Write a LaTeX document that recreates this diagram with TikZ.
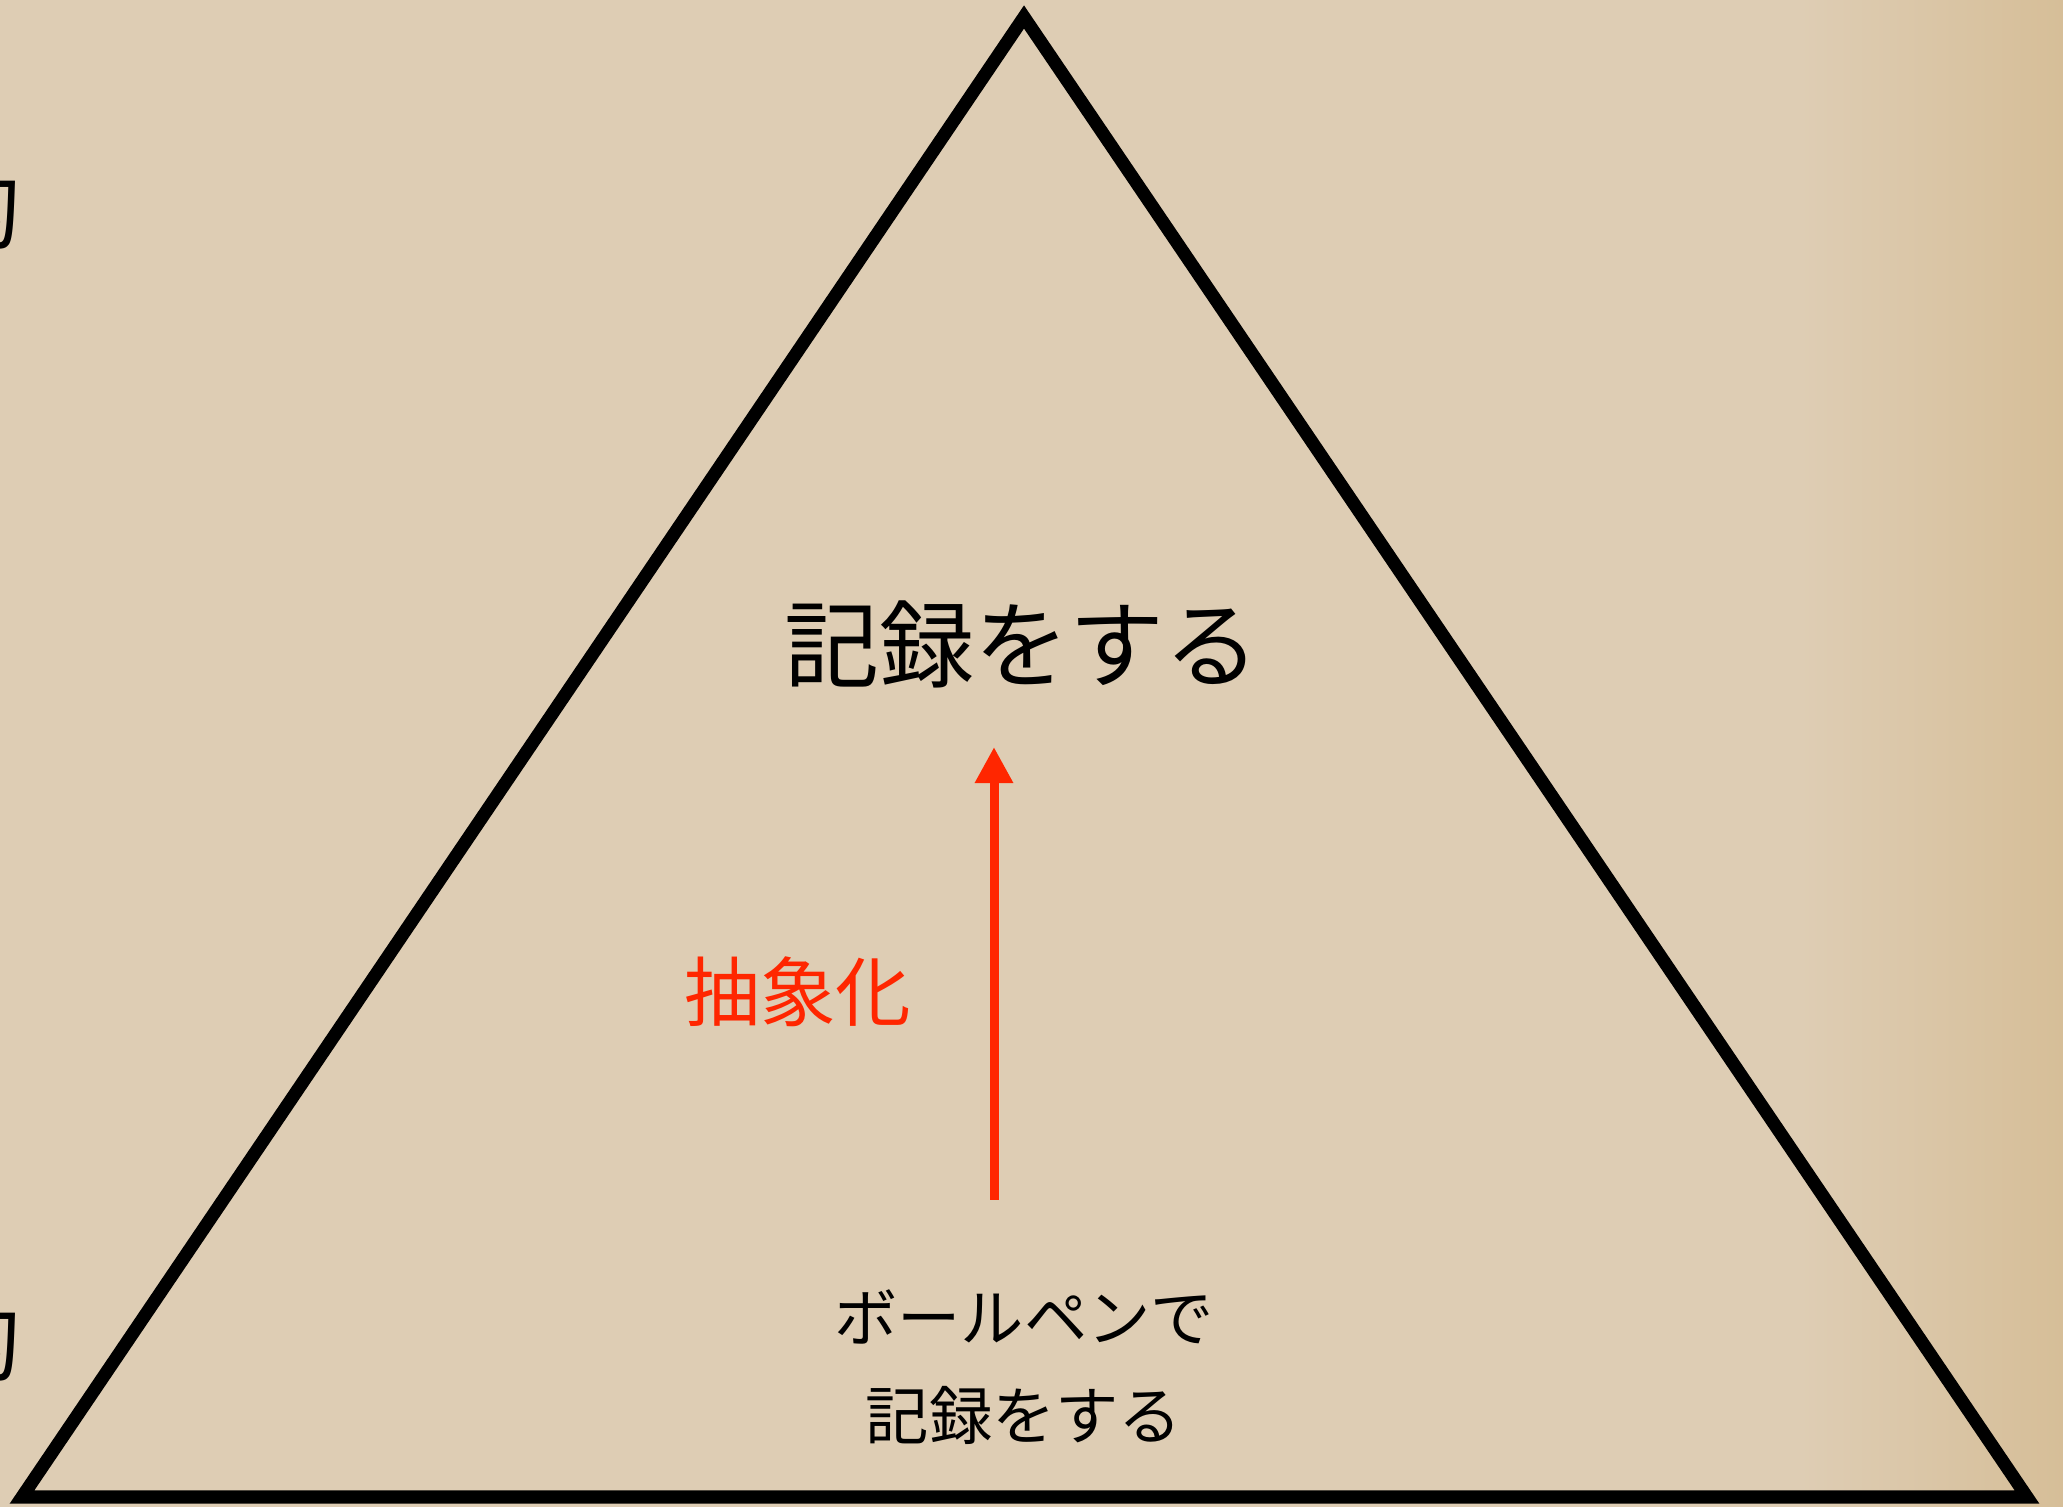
\documentclass[tikz,border=0pt]{standalone}
\usepackage{fontspec}
\newfontfamily\jp{Noto Sans CJK JP}
\usetikzlibrary{positioning,arrows.meta}
\definecolor{paper}{RGB}{222,205,180}
\definecolor{paperdark}{RGB}{214,190,152}
\definecolor{abstractred}{RGB}{255,38,0}

\begin{document}
\begin{tikzpicture}[
  x=0.01cm, y=-0.01cm,
  heading/.style={font=\jp\fontsize{27}{27}\selectfont, inner sep=0pt},
  note/.style={font=\jp\fontsize{18}{28}\selectfont, inner sep=0pt, align=center},
  redtag/.style={font=\jp\fontsize{21.5}{21.5}\selectfont\color{abstractred}, inner sep=0pt},
  edgetag/.style={font=\jp\fontsize{26}{26}\selectfont, inner sep=0pt, anchor=east},
  pyramid/.style={draw=black, line width=0.13cm, miter limit=20},
  up-arrow/.style={draw=abstractred, line width=0.09cm, -{Triangle[length=0.36cm, width=0.36cm]}}
]
  \useasboundingbox (0,0) rectangle (2063,1507);
  \fill[paper] (0,0) rectangle (2063,1507);
  \shade[left color=paper, right color=paperdark, shading angle=90] (1800,0) rectangle (2063,1507);

  % clipped words at the left edge
  \node (top-word) at (23, 208) [edgetag] {的};
  \node (bottom-word) at (23, 1340) [edgetag] {的};

  \coordinate (apex) at (1024, 17);
  \coordinate (base-left) at (22, 1497);
  \coordinate (base-right) at (2027, 1497);
  \draw[pyramid] (apex) -- (base-left) -- (base-right) -- cycle;

  \node (record) at (1022, 644) [heading] {記録をする};
  \node (pen-record) at (1024, 1367) [note] {ボールペンで\\記録をする};
  \node (abstraction) at (798, 992) [redtag] {抽象化};

  \coordinate (arrow-base) at (994, 1200);
  \coordinate (arrow-tip) at (994, 747);
  \draw[up-arrow] (arrow-base) -- (arrow-tip);

\end{tikzpicture}
\end{document}
